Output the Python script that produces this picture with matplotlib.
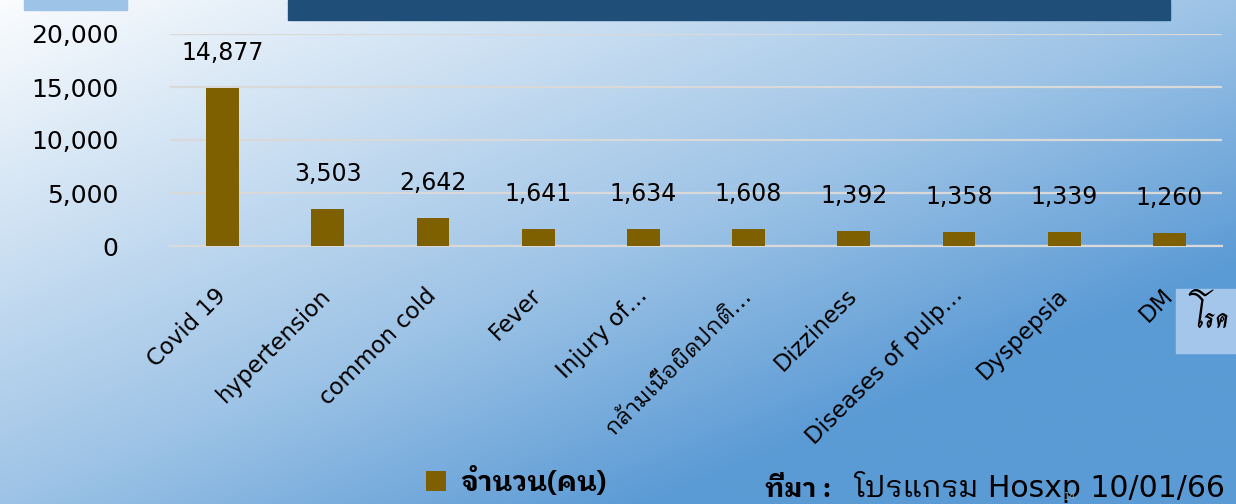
import matplotlib
matplotlib.use("Agg")
import matplotlib.pyplot as plt
import numpy as np
from matplotlib.colors import LinearSegmentedColormap
from matplotlib.patches import Rectangle

# top ten diagnoses, patient counts
diseases = [
    "Covid 19",
    "hypertension",
    "common cold",
    "Fever",
    "Injury of…",
    "กล้ามเนื้อผิดปกติ…",
    "Dizziness",
    "Diseases of pulp…",
    "Dyspepsia",
    "DM",
]
patients = [14877, 3503, 2642, 1641, 1634, 1608, 1392, 1358, 1339, 1260]
y_ticks = [0, 5000, 10000, 15000, 20000]

series_label = "จำนวน(คน)"
axis_label = "โรค"
source_head = "ที่มา :"
source_body = "โปรแกรม Hosxp 10/01/66"

BAR_COLOR = "#7F6000"
FONT = ["DejaVu Sans", "IBM Plex Sans Thai Looped"]
THAI_FONT = ["IBM Plex Sans Thai Looped", "DejaVu Sans"]

W, H = 1236, 504


def fx(px):
    return px / W


def fy(py):
    return 1 - py / H


fig = plt.figure(figsize=(W / 100, H / 100), dpi=100)

# diagonal slide-style gradient behind everything
bg = fig.add_axes([0, 0, 1, 1], zorder=0)
gx, gy = np.meshgrid(np.linspace(0, 1, 400), np.linspace(0, 1, 200))
t = (gx + gy) / 2
cmap = LinearSegmentedColormap.from_list(
    "slide",
    [(0.0, "#FAFCFE"), (0.5, "#9DC3E6"), (0.76, "#5C9BD5"), (1.0, "#5B9BD5")],
)
bg.imshow(t, cmap=cmap, aspect="auto", extent=[0, 1, 1, 0], vmin=0, vmax=1)
bg.set_xlim(0, 1)
bg.set_ylim(1, 0)
bg.axis("off")

# slide decorations
fig.add_artist(Rectangle((fx(288), fy(20)), fx(1170 - 288), 20 / H,
                         transform=fig.transFigure, color="#1F4E79", zorder=1))
fig.add_artist(Rectangle((fx(24), fy(10)), fx(103), 10 / H,
                         transform=fig.transFigure, color="#9DC3E6", zorder=1))
fig.add_artist(Rectangle((fx(1176), fy(353)), fx(60), 64 / H,
                         transform=fig.transFigure, color="#A3C6EA", zorder=1))

ax = fig.add_axes([fx(170), fy(246), fx(1052), (246 - 34) / H], zorder=2)
ax.patch.set_alpha(0)

x = np.arange(len(diseases))
bars = ax.bar(x, patients, width=0.31, color=BAR_COLOR, zorder=3, label=series_label)

for xi, v in zip(x, patients):
    ax.annotate(f"{v:,}", (xi, v), xytext=(0, 28), textcoords="offset pixels",
                ha="center", va="baseline", fontsize=17, family=FONT)

ax.set_xlim(-0.5, len(diseases) - 0.5)
ax.set_ylim(0, 20000)
ax.set_yticks(y_ticks)
ax.set_yticklabels([f"{v:,}" for v in y_ticks], fontsize=18, family=FONT)
ax.grid(axis="y", color="#D9D9D9", linewidth=1.6, zorder=0)
ax.set_axisbelow(True)
for side in ["top", "right", "left"]:
    ax.spines[side].set_visible(False)
ax.spines["bottom"].set_color("#D9D9D9")
ax.spines["bottom"].set_linewidth(1.6)
ax.tick_params(axis="y", length=0, pad=37)
ax.tick_params(axis="x", length=0, pad=33)
ax.set_xticks(x)
ax.set_xticklabels(diseases, rotation=45, ha="right", va="center",
                   rotation_mode="anchor", fontsize=16.5, family=FONT)

fig.text(fx(1212), fy(319), axis_label, ha="center", va="center", fontsize=19,
         family=["Charm", "DejaVu Sans"], weight="bold", zorder=3)

fig.legend(handles=[bars], labels=[series_label], loc="center left",
           bbox_to_anchor=(fx(401), fy(482)), frameon=False, handlelength=0.72,
           handleheight=0.72, handletextpad=0.5,
           prop={"family": THAI_FONT, "size": 20, "weight": "bold"})

fig.text(fx(765), fy(497), source_head, ha="left", va="baseline", fontsize=19,
         family=THAI_FONT, weight="bold")
fig.text(fx(1225), fy(497), source_body, ha="right", va="baseline", fontsize=21.5,
         family=FONT)
fig.text(fx(1070), fy(497), "14", ha="center", va="center", fontsize=7,
         color="#8FA3B8", family=FONT)

fig.savefig("out.png", dpi=100)
